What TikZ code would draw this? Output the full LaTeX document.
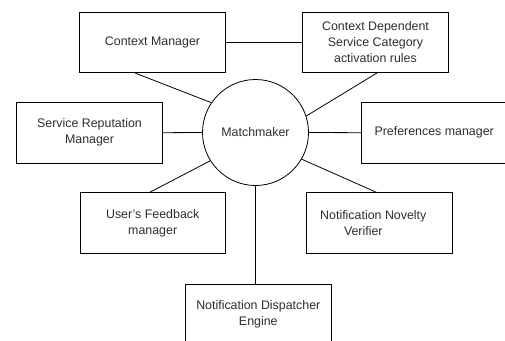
\documentclass[tikz,border=0pt]{standalone}
\usepackage{fontspec}
\setmainfont{Liberation Sans}
\usetikzlibrary{calc}
\definecolor{txt}{RGB}{45,45,45}
\begin{document}
\begin{tikzpicture}[x=1pt,y=-1pt,
  box/.style={draw=black,line width=0.8pt,rectangle,minimum width=145.3pt,minimum height=60.6pt,inner sep=0pt,align=center,text=txt,font=\fontsize{12.4}{16}\selectfont},
  hub/.style={draw=black,line width=0.8pt,circle,minimum size=106pt,inner sep=0pt,text=txt,font=\fontsize{12.4}{16}\selectfont},
  link/.style={draw=black,line width=0.8pt}]
\useasboundingbox (0,0) rectangle (505,340);
\node[hub] (mm) at (255.5,132.5) {Matchmaker};
\node[box] (cm) at (152.5,42.3) {Context Manager};
\node[box] (cdsc) at (375.5,42.3) {Context Dependent\\Service Category\\activation rules};
\node[box] (srm) at (89.5,132.7) {Service Reputation\\Manager};
\node[box] (pm) at (434.2,132.7) {Preferences manager};
\node[box] (ufm) at (152.7,223) {User's Feedback\\manager};
\node[box] (nnv) at (379.3,223) {\hspace*{-12pt}Notification Novelty\\\hspace*{-12pt}Verifier\hspace*{20pt}};
\node[box] (nde) at (258.3,314.6) {Notification Dispatcher\\Engine};
\draw[link] (cm.east) -- (cdsc.west);
\draw[link] ($(cm.south west)!0.38!(cm.south east)$) -- (mm.146);
\draw[link] ($(cdsc.south west)!0.51!(cdsc.south east)$) -- (mm.18);
\draw[link] (srm.east) -- (mm.west);
\draw[link] (mm.east) -- (pm.west);
\draw[link] ($(ufm.north west)!0.48!(ufm.north east)$) -- (mm.212);
\draw[link] ($(nnv.north west)!0.48!(nnv.north east)$) -- (mm.330);
\draw[link] (mm.south) -- (mm.south |- nde.north);
\end{tikzpicture}
\end{document}
